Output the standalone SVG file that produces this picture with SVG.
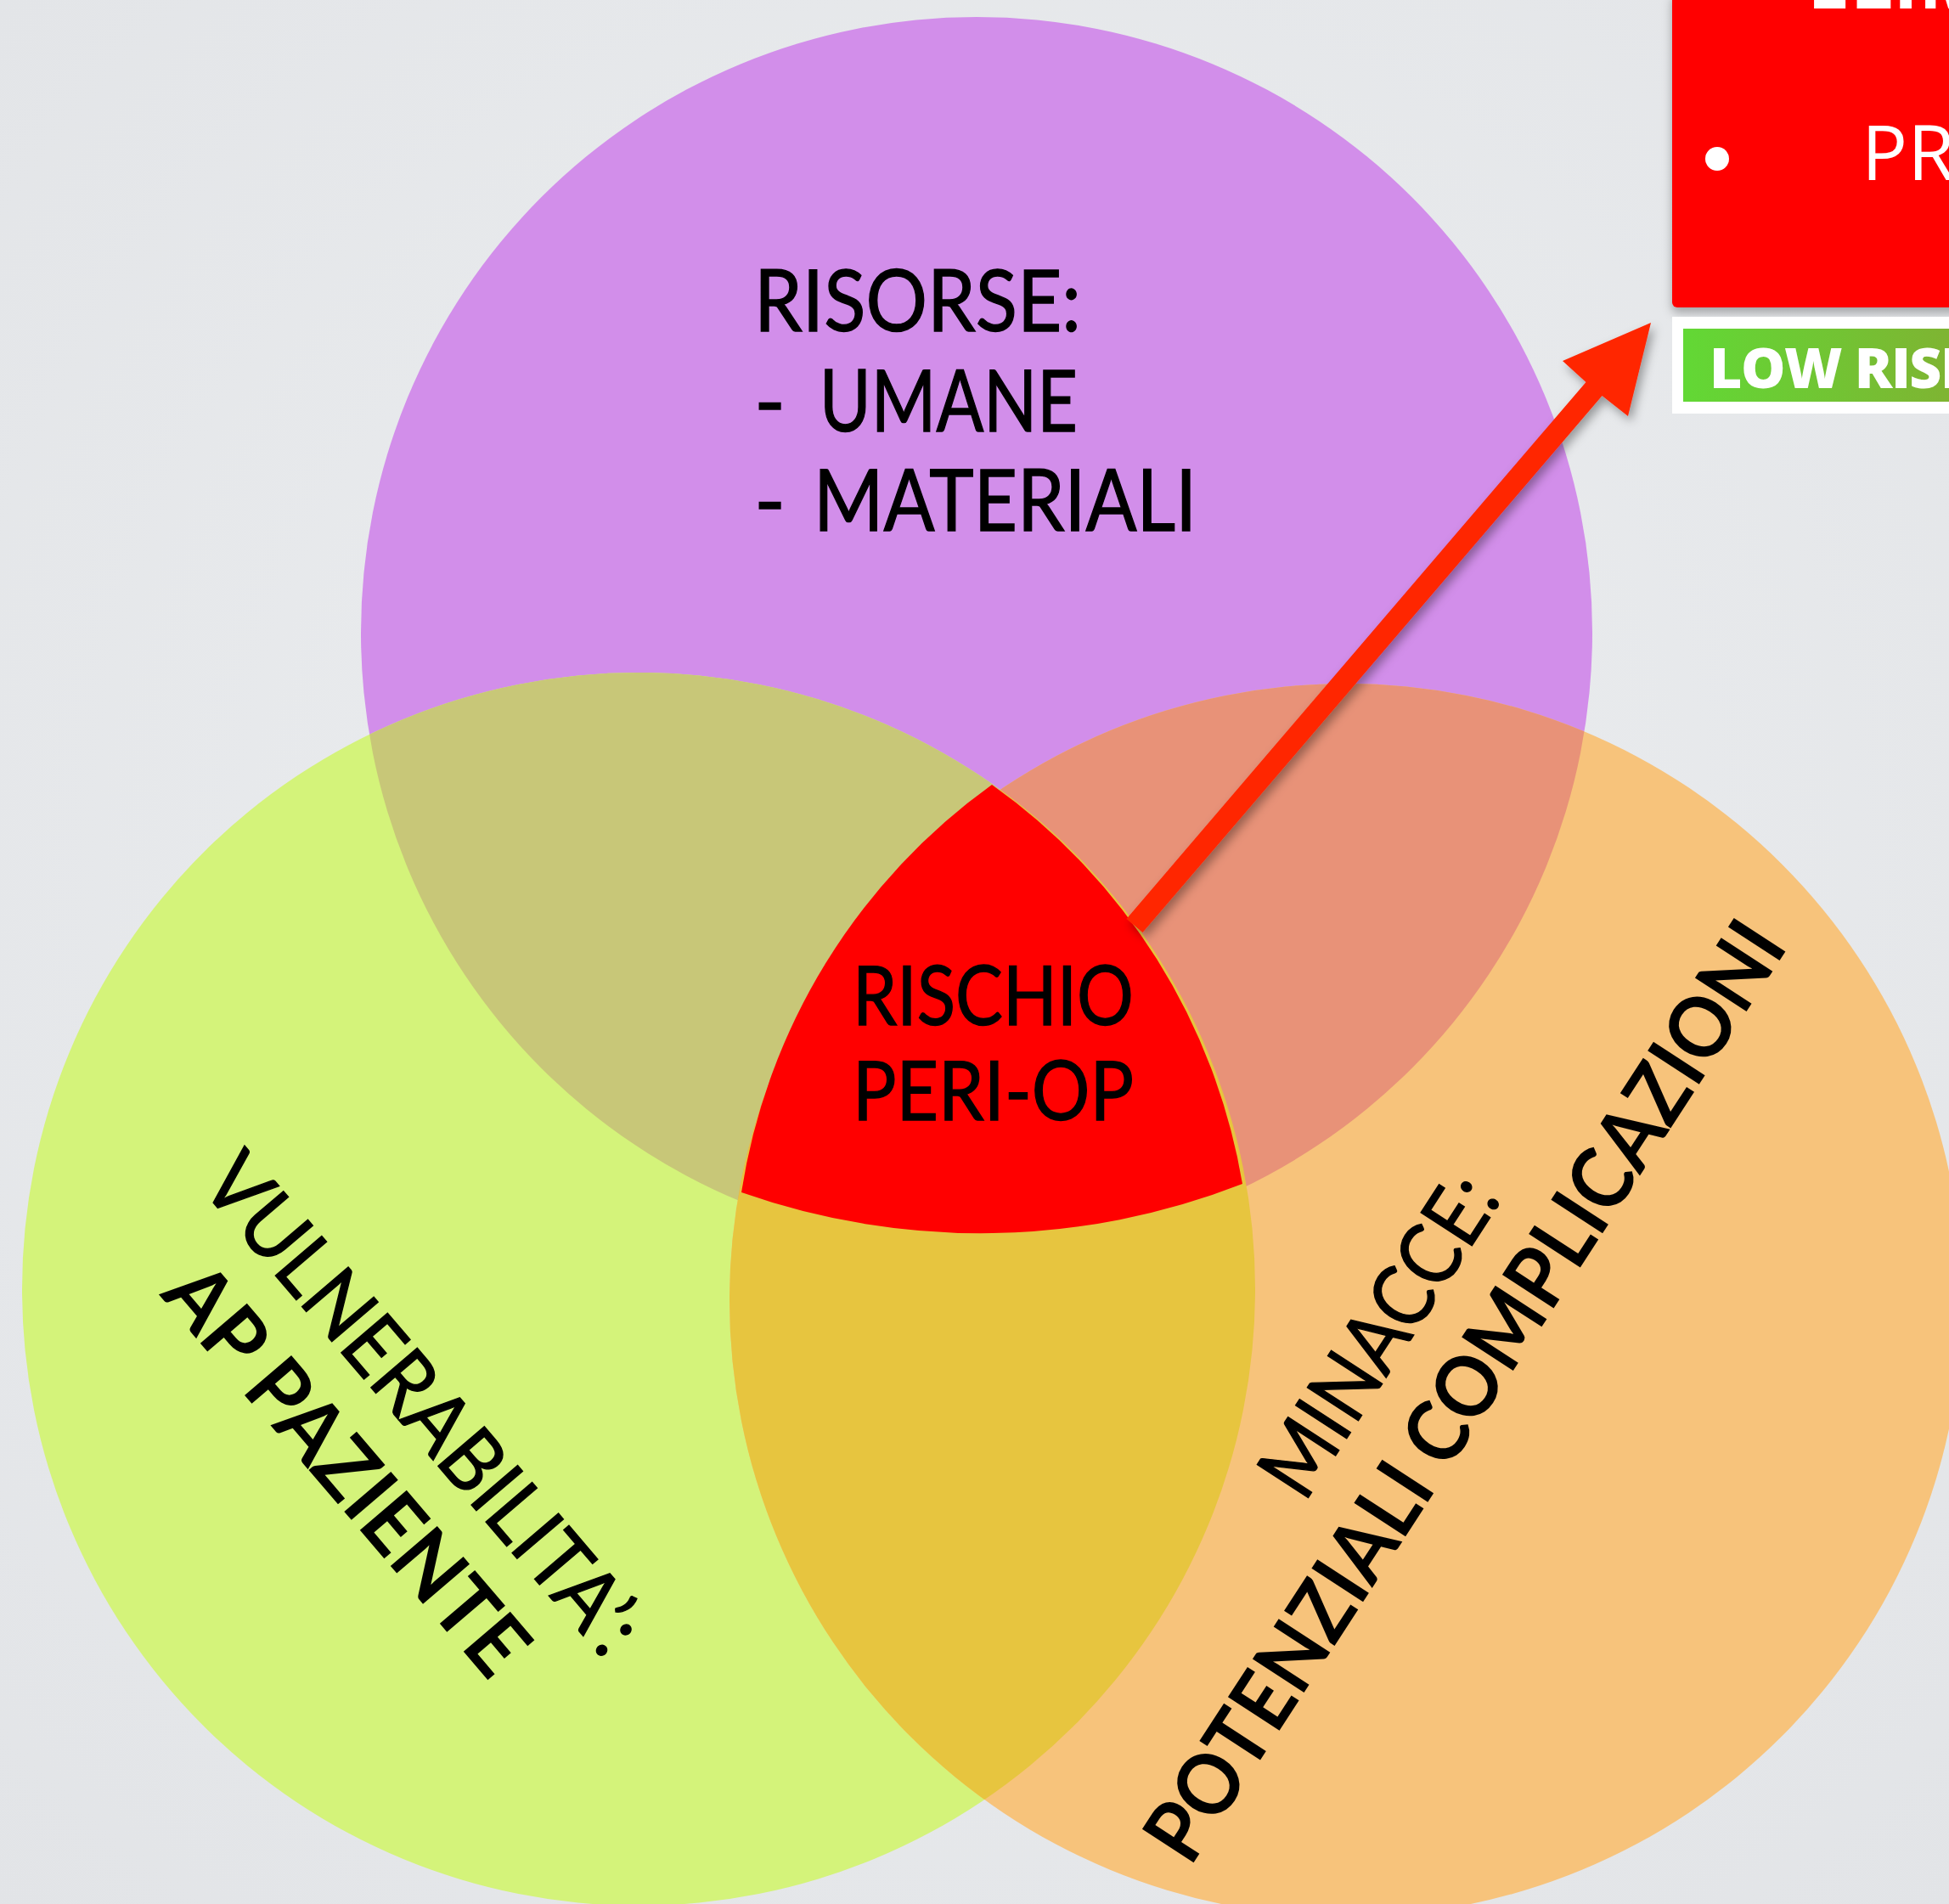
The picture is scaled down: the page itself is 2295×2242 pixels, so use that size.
<svg xmlns="http://www.w3.org/2000/svg" width="2295" height="2242" viewBox="0 0 2295 2242">
  <defs>
    <style>
      .lbl { font-family: Lato, "Open Sans", "DejaVu Sans", sans-serif; fill: #000; }
      .reg { font-weight: 400; stroke: #000; stroke-width: 1.4; }
      .bold { font-weight: 700; }
      .wht { font-family: "Open Sans", "Liberation Sans", sans-serif; fill: #ffffff; }
    </style>
    <radialGradient id="bg" cx="50%" cy="45%" r="75%">
      <stop offset="0" stop-color="#eceef0"/>
      <stop offset="1" stop-color="#e2e4e7"/>
    </radialGradient>
    <linearGradient id="lowrisk" x1="0" y1="0" x2="1" y2="0">
      <stop offset="0" stop-color="#62d835"/>
      <stop offset="1" stop-color="#80b232"/>
    </linearGradient>
    <clipPath id="clipPurple"><circle cx="1150" cy="745" r="725"/></clipPath>
    <clipPath id="clipGreen"><circle cx="752" cy="1518" r="726"/></clipPath>
    <clipPath id="clipOrange"><circle cx="1585" cy="1531" r="726"/></clipPath>
    <filter id="shadow" x="-20%" y="-20%" width="140%" height="140%">
      <feDropShadow dx="4" dy="6" stdDeviation="6" flood-color="#000" flood-opacity="0.35"/>
    </filter>
    <filter id="boxShadow" x="-10%" y="-10%" width="120%" height="130%">
      <feDropShadow dx="0" dy="6" stdDeviation="6" flood-color="#000" flood-opacity="0.3"/>
    </filter>
  </defs>

  <rect x="0" y="0" width="2295" height="2242" fill="url(#bg)"/>

  <!-- circle nodes -->
  <g id="node-risorse">
    <circle cx="1150" cy="745" r="725" fill="#d28eea"/>
    <text class="lbl reg" x="888" y="390" font-size="100" textLength="385" lengthAdjust="spacingAndGlyphs">RISORSE:</text>
    <text class="lbl reg" x="888" y="508" font-size="100">-</text>
    <text class="lbl reg" x="965" y="508" font-size="100" textLength="304" lengthAdjust="spacingAndGlyphs">UMANE</text>
    <text class="lbl reg" x="888" y="625" font-size="100">-</text>
    <text class="lbl reg" x="958" y="625" font-size="100" textLength="451" lengthAdjust="spacingAndGlyphs">MATERIALI</text>
  </g>

  <g id="node-vulnerabilita">
    <circle cx="752" cy="1518" r="726" fill="#d4f37a"/>
    <g transform="translate(472.5,1675.5) rotate(49.5)">
      <text class="lbl reg" x="0" y="0" font-size="100" text-anchor="middle" textLength="737" lengthAdjust="spacingAndGlyphs">VULNERABILITA’:</text>
      <text class="lbl bold" x="0" y="119" font-size="100" text-anchor="middle" textLength="600" lengthAdjust="spacingAndGlyphs">AP PAZIENTE</text>
    </g>
  </g>

  <g id="node-minacce">
    <circle cx="1585" cy="1531" r="726" fill="#f7c37b"/>
    <g transform="translate(1652.5,1591) rotate(-57)">
      <text class="lbl reg" x="0" y="0" font-size="100" text-anchor="middle" textLength="428" lengthAdjust="spacingAndGlyphs">MINACCE:</text>
      <text class="lbl bold" x="0" y="121" font-size="100" text-anchor="middle" textLength="1294" lengthAdjust="spacingAndGlyphs">POTENZIALI COMPLICAZIONI</text>
    </g>
  </g>

  <!-- pairwise overlaps -->
  <g id="overlaps">
    <g clip-path="url(#clipPurple)">
      <circle cx="752" cy="1518" r="726" fill="#c8c778"/>
      <circle cx="1585" cy="1531" r="726" fill="#e89278"/>
    </g>
    <g clip-path="url(#clipGreen)">
      <circle cx="1585" cy="1531" r="726" fill="#e7c53f"/>
    </g>
  </g>

  <!-- centre node -->
  <g id="node-rischio">
    <path d="M1168,924 A728,728 0 0 0 873,1404 A847,847 0 0 0 1463,1394 A724,724 0 0 0 1168,924 Z" fill="#ff0000"/>
    <text class="lbl reg" x="1004" y="1207" font-size="96" textLength="331" lengthAdjust="spacingAndGlyphs">RISCHIO</text>
    <text class="lbl reg" x="1004" y="1319" font-size="96" textLength="331" lengthAdjust="spacingAndGlyphs">PERI-OP</text>
  </g>

  <!-- connectors -->
  <g id="connectors">
    <polygon filter="url(#shadow)" fill="#ff2600" points="1326.5,1081.9 1867.5,449.9 1840,425 1944,380 1917,490 1886.5,466.1 1345.5,1098.1"/>
  </g>

  <!-- right-hand boxes -->
  <g id="node-action-box">
    <rect x="1969" y="-10" width="340" height="372" rx="6" fill="#ff0000" filter="url(#boxShadow)"/>
    <text class="wht" x="2128" y="10" font-size="90" font-weight="700">ELIM</text>
    <circle cx="2022" cy="187" r="14" fill="#ffffff"/>
    <text class="wht" x="2192" y="212" font-size="90" font-weight="400">PR</text>
  </g>

  <g id="node-low-risk">
    <rect x="1969" y="373" width="340" height="114" fill="#ffffff"/>
    <rect x="1982" y="387" width="330" height="86" fill="url(#lowrisk)"/>
    <text class="wht" x="2013" y="457" font-size="66" font-weight="800" letter-spacing="-1.5">LOW RISK</text>
  </g>
</svg>
